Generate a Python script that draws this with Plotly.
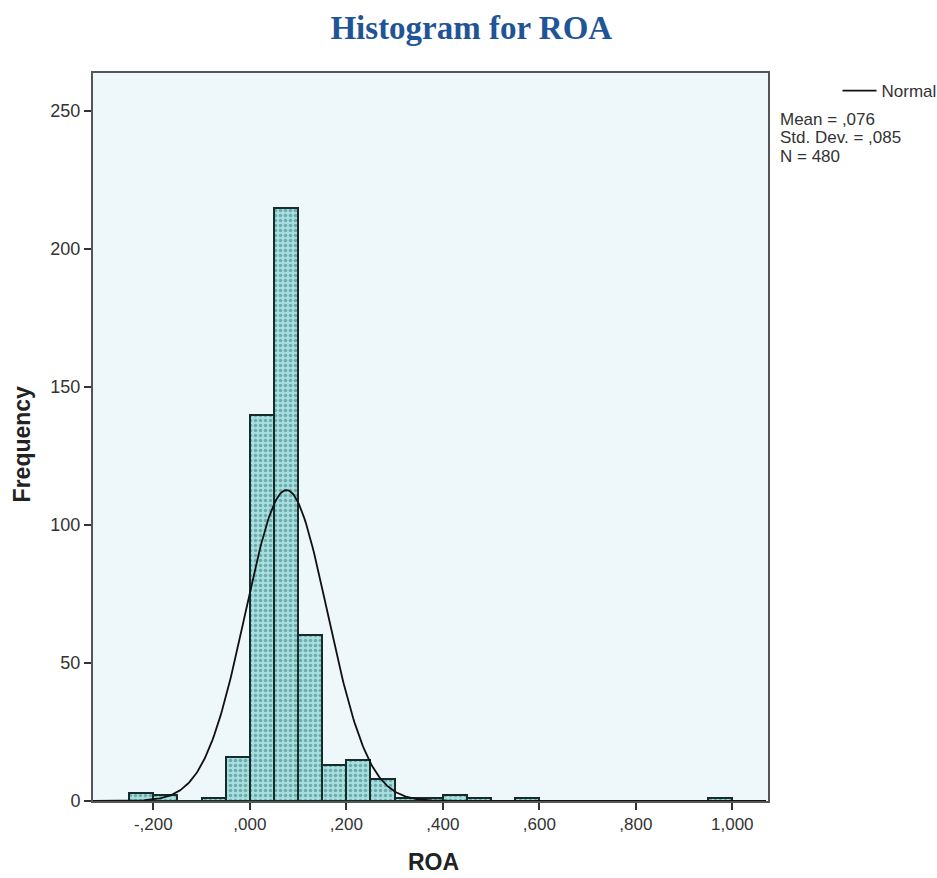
import numpy as np
import plotly.graph_objects as go

# Histogram bins (left edges) and frequencies
bin_left = [-0.25, -0.20, -0.15, -0.10, -0.05, 0.00, 0.05, 0.10, 0.15, 0.20, 0.25,
            0.30, 0.35, 0.40, 0.45, 0.50, 0.55, 0.60, 0.65, 0.70, 0.75, 0.80,
            0.85, 0.90, 0.95]
freq = [3, 2, 0, 1, 16, 140, 215, 60, 13, 15, 8,
        1, 1, 2, 1, 0, 1, 0, 0, 0, 0, 0,
        0, 0, 1]
bin_width = 0.05

# Summary statistics shown in the chart
mean_roa = 0.076
sd_roa = 0.085
n_obs = 480

x_tick_vals = [-0.2, 0.0, 0.2, 0.4, 0.6, 0.8, 1.0]
x_tick_text = ["-,200", ",000", ",200", ",400", ",600", ",800", "1,000"]
y_tick_vals = [0, 50, 100, 150, 200, 250]
y_tick_text = ["0", "50", "100", "150", "200", "250"]

centers = [b + bin_width / 2 for b in bin_left]

# Fitted normal curve (scaled to counts) from the stated mean / sd / N
xc = np.linspace(-0.33, 1.07, 500)
yc = n_obs * bin_width * np.exp(-0.5 * ((xc - mean_roa) / sd_roa) ** 2) / (sd_roa * np.sqrt(2 * np.pi))

fig = go.Figure()
fig.add_trace(go.Bar(
    x=centers, y=freq, width=bin_width,
    marker=dict(
        color="#a6dfdf",
        line=dict(color="#172b2b", width=2),
        pattern=dict(shape=".", fgcolor="#3a7677", bgcolor="#a6dfdf", size=5, solidity=0.4),
    ),
    showlegend=False, hoverinfo="x+y",
))
fig.add_trace(go.Scatter(
    x=xc, y=yc, mode="lines", name="Normal",
    line=dict(color="#111111", width=1.8),
))

fig.update_layout(
    width=937, height=878,
    margin=dict(l=93, r=169, t=73, b=77, autoexpand=False),
    paper_bgcolor="white",
    plot_bgcolor="#eef7f9",
    bargap=0,
    title=dict(
        text="<b>Histogram for ROA</b>",
        x=0.503, xanchor="center", xref="container",
        y=0.969, yanchor="middle", yref="container",
        font=dict(family="Liberation Serif, Times New Roman, serif", size=33, color="#1f5597"),
    ),
    font=dict(family="Liberation Sans, Arial, sans-serif", color="#333333"),
    legend=dict(
        x=1.103, y=1.0, xanchor="left", yanchor="top",
        bgcolor="rgba(0,0,0,0)", font=dict(size=17, color="#333333"),
        itemwidth=34, tracegroupgap=0,
    ),
    xaxis=dict(
        range=[-0.325, 1.074],
        tickvals=x_tick_vals, ticktext=x_tick_text,
        ticks="outside", ticklen=7, tickwidth=1.5, tickcolor="#333333",
        tickfont=dict(size=17, color="#333333"),
        showline=True, linecolor="#555555", linewidth=2, mirror=True,
        showgrid=False, zeroline=False, automargin=False,
    ),
    yaxis=dict(
        range=[0, 263.8],
        tickvals=y_tick_vals, ticktext=y_tick_text,
        ticks="outside", ticklen=7, tickwidth=1.5, tickcolor="#333333",
        tickfont=dict(size=18, color="#333333"),
        showline=True, linecolor="#555555", linewidth=2, mirror=True,
        showgrid=False, zeroline=False, automargin=False,
    ),
)

# Axis titles
fig.add_annotation(text="<b>ROA</b>", xref="paper", yref="paper", x=0.505, y=-0.084,
                   xanchor="center", yanchor="middle", showarrow=False,
                   font=dict(size=23, color="#222222"))
fig.add_annotation(text="<b>Frequency</b>", xref="paper", yref="paper", x=-0.105, y=0.49,
                   xanchor="center", yanchor="middle", showarrow=False, textangle=-90,
                   font=dict(size=23, color="#222222"))

stats_lines = [f"Mean = ,{int(round(mean_roa*1000)):03d}",
               f"Std. Dev. = ,{int(round(sd_roa*1000)):03d}",
               f"N = {n_obs}"]
for i, t in enumerate(stats_lines):
    fig.add_annotation(
        text=t, xref="paper", yref="paper",
        x=1.0145, y=0.9365 - i * 0.0255, xanchor="left", yanchor="middle",
        showarrow=False, font=dict(size=17, color="#333333"),
    )

fig.write_html("out.html")
